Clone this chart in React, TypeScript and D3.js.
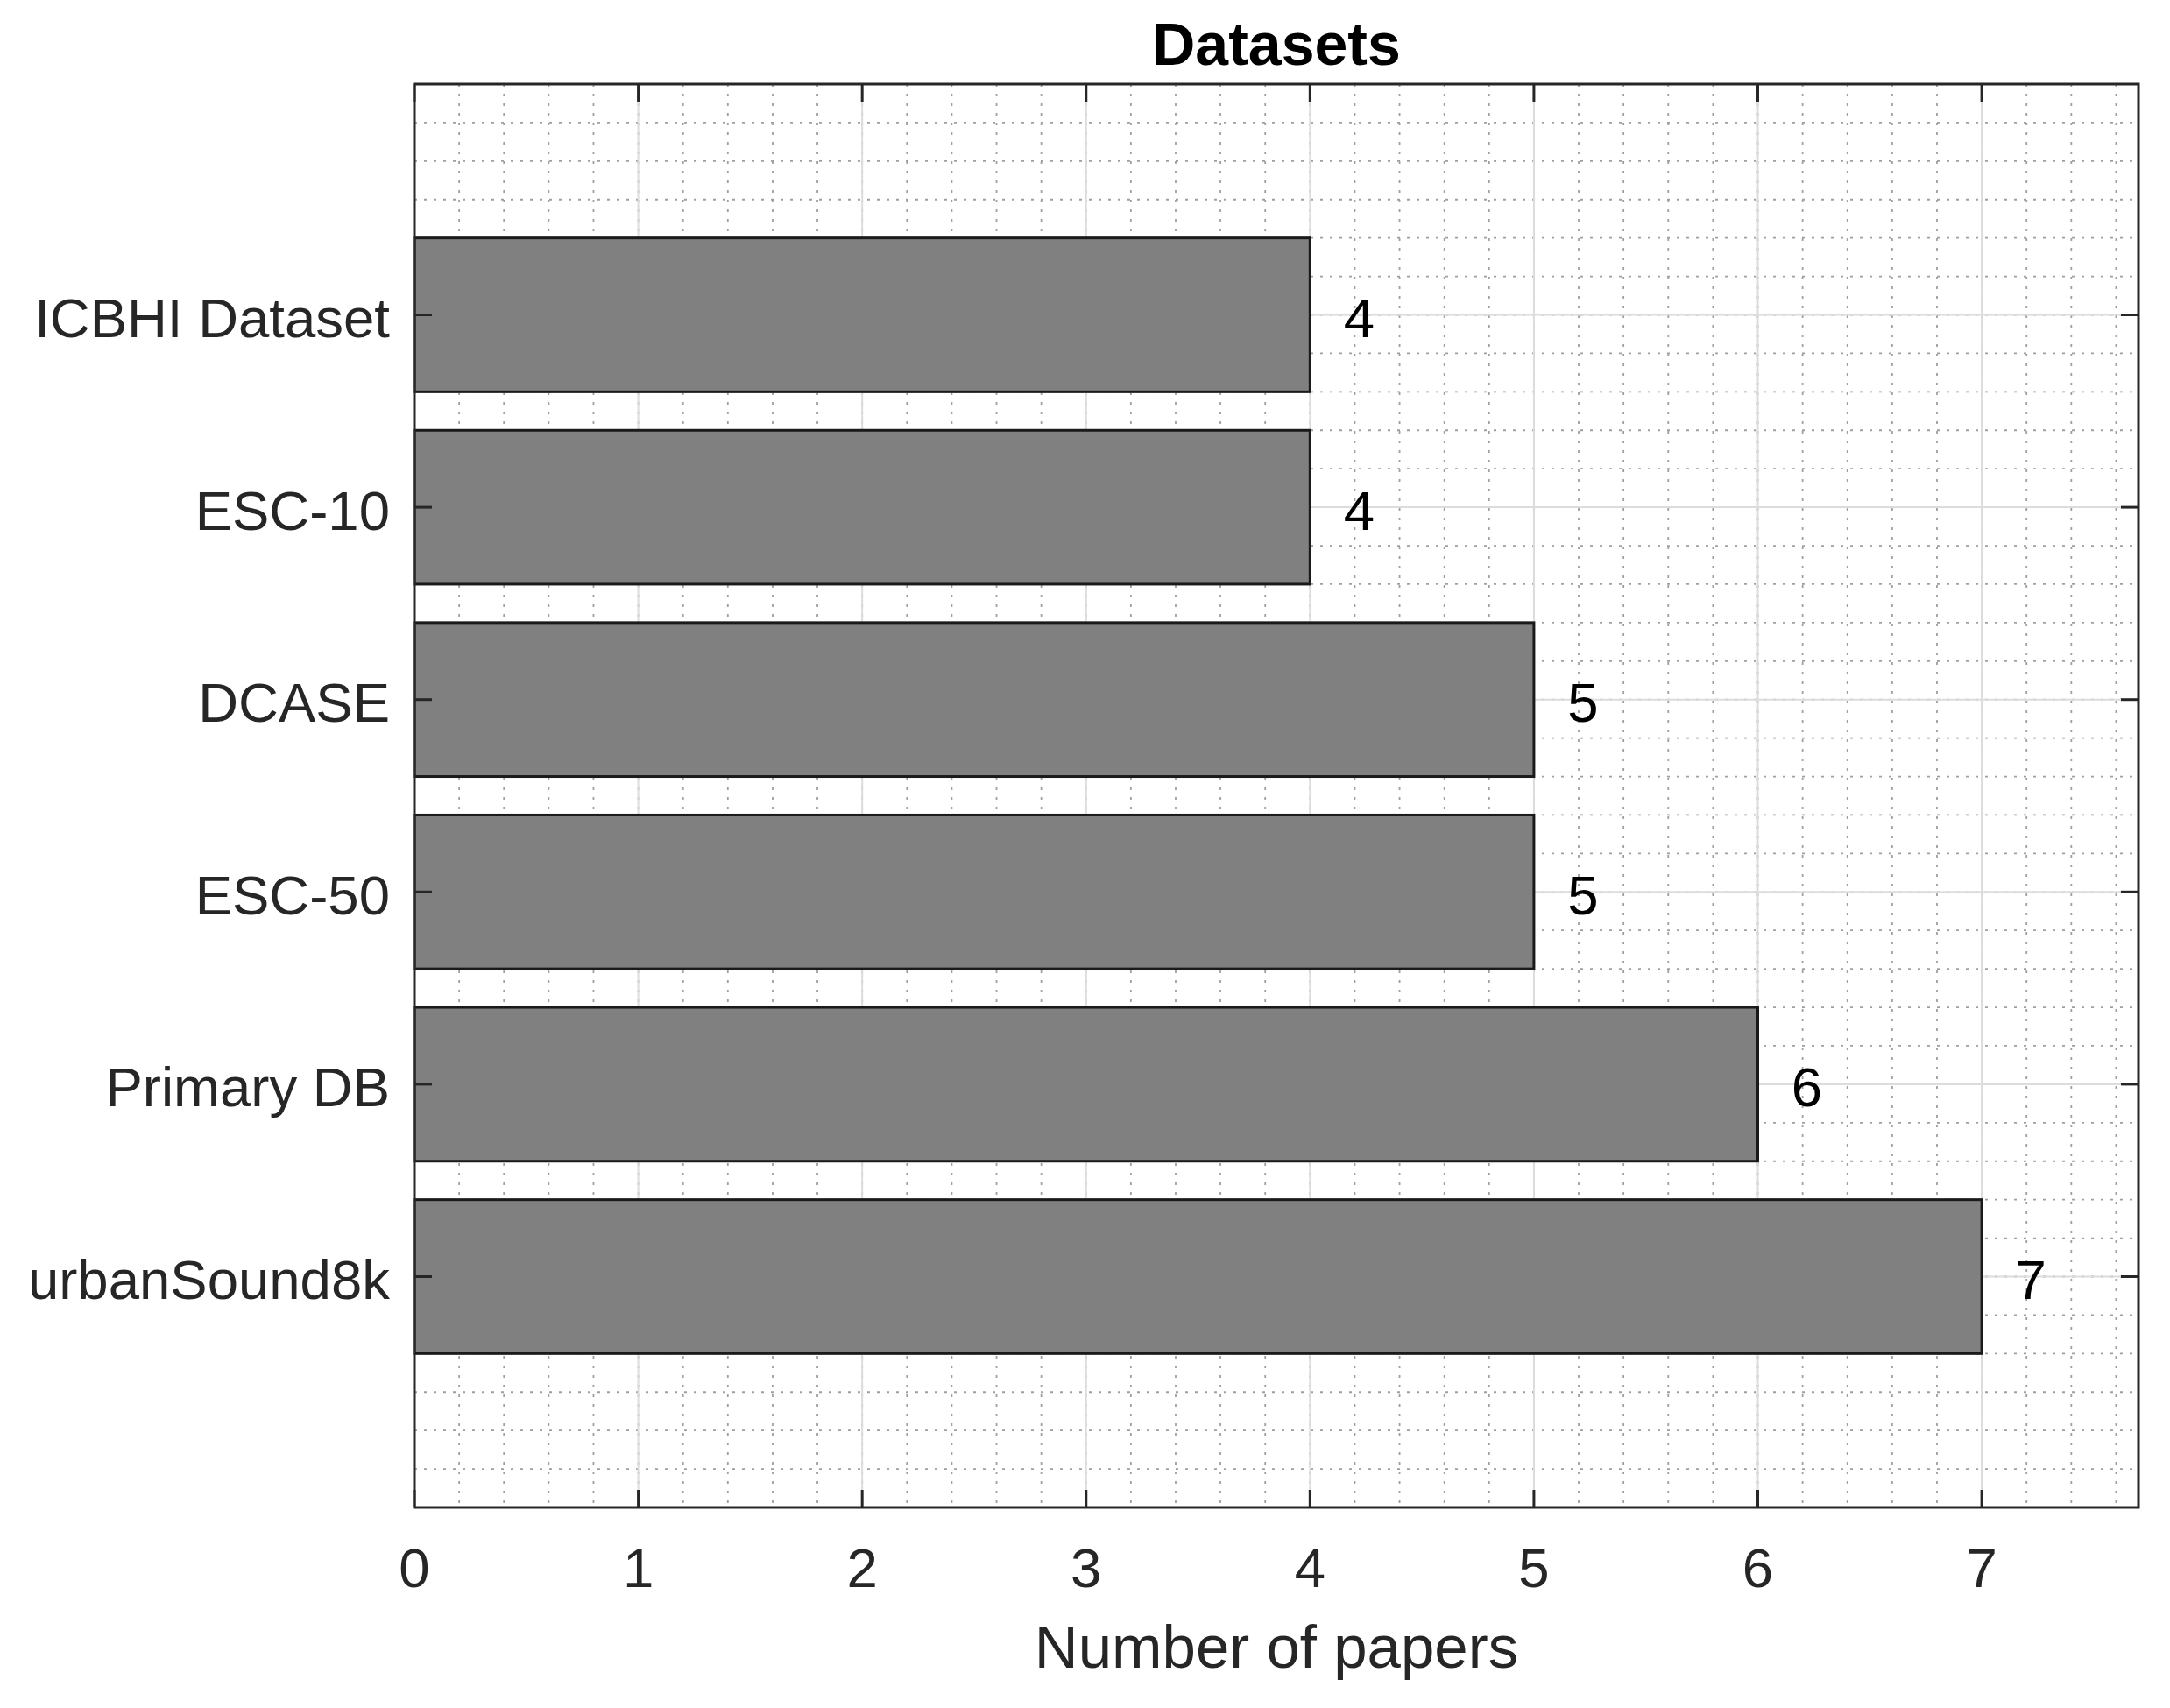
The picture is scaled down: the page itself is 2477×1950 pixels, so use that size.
import React from "react";
import * as d3 from "d3";

const categories = ["urbanSound8k", "Primary DB", "ESC-50", "DCASE", "ESC-10", "ICBHI Dataset"];
const values = [7, 6, 5, 5, 4, 4];
const xTicks = [0, 1, 2, 3, 4, 5, 6, 7];
const titleText = "Datasets";
const xLabelText = "Number of papers";

const W = 2477;
const H = 1950;
const M = { left: 473, right: 2441, top: 96, bottom: 1721 };
const FONT = "'Liberation Sans', Arial, Helvetica, sans-serif";
const AX = "#262626";
const TICK_FS = 63.5;

export default function App() {
  const x = d3.scaleLinear().domain([0, 7.7]).range([M.left, M.right]);
  const y = d3.scaleLinear().domain([-0.2, 7.2]).range([M.bottom, M.top]);
  const pos = categories.map((_, i) => i + 1);

  const xMinor = d3.range(0, 7.7 + 1e-9, 0.2).map((v) => +v.toFixed(2));
  const yMinor = d3.range(-0.2, 7.2 + 1e-9, 0.2).map((v) => +v.toFixed(2));
  const tickLen = 20;

  return (
    <svg
      width={W}
      height={H}
      style={{ position: "absolute", left: 0, top: 0, background: "#fff" }}
      fontFamily={FONT}
    >
      <rect x={0} y={0} width={W} height={H} fill="#fff" />
      {/* minor grid */}
      <g stroke="#8f8f8f" strokeWidth={1.8} strokeDasharray="3 8" opacity={0.85}>
        {xMinor.map((v, i) => (
          <line key={"xm" + i} x1={x(v)} x2={x(v)} y1={M.top} y2={M.bottom} />
        ))}
        {yMinor.map((v, i) => (
          <line key={"ym" + i} x1={M.left} x2={M.right} y1={y(v)} y2={y(v)} />
        ))}
      </g>
      {/* major grid */}
      <g stroke="#dcdcdc" strokeWidth={2}>
        {xTicks.map((v) => (
          <line key={"xg" + v} x1={x(v)} x2={x(v)} y1={M.top} y2={M.bottom} />
        ))}
        {pos.map((p) => (
          <line key={"yg" + p} x1={M.left} x2={M.right} y1={y(p)} y2={y(p)} />
        ))}
      </g>
      {/* bars */}
      <g>
        {values.map((v, i) => (
          <rect
            key={"b" + i}
            x={x(0)}
            y={y(pos[i] + 0.4)}
            width={x(v) - x(0)}
            height={y(pos[i] - 0.4) - y(pos[i] + 0.4)}
            fill="#808080"
            stroke="#1a1a1a"
            strokeWidth={3}
          />
        ))}
      </g>
      {/* value labels */}
      <g fontSize={TICK_FS} fill="#000">
        {values.map((v, i) => (
          <text key={"v" + i} x={x(v + 0.15)} y={y(pos[i])} dy="0.4em">
            {v}
          </text>
        ))}
      </g>
      {/* axes box */}
      <rect
        x={M.left}
        y={M.top}
        width={M.right - M.left}
        height={M.bottom - M.top}
        fill="none"
        stroke={AX}
        strokeWidth={3}
      />
      {/* ticks */}
      <g stroke={AX} strokeWidth={3}>
        {xTicks.map((v) => (
          <g key={"xt" + v}>
            <line x1={x(v)} x2={x(v)} y1={M.bottom} y2={M.bottom - tickLen} />
            <line x1={x(v)} x2={x(v)} y1={M.top} y2={M.top + tickLen} />
          </g>
        ))}
        {pos.map((p) => (
          <g key={"yt" + p}>
            <line x1={M.left} x2={M.left + tickLen} y1={y(p)} y2={y(p)} />
            <line x1={M.right} x2={M.right - tickLen} y1={y(p)} y2={y(p)} />
          </g>
        ))}
      </g>
      {/* tick labels */}
      <g fontSize={TICK_FS} fill={AX} textAnchor="middle">
        {xTicks.map((v) => (
          <text key={"xl" + v} x={x(v)} y={1812}>
            {v}
          </text>
        ))}
      </g>
      <g fontSize={TICK_FS} fill={AX} textAnchor="end">
        {categories.map((c, i) => (
          <text key={"yl" + i} x={M.left - 28} y={y(pos[i])} dy="0.4em">
            {c}
          </text>
        ))}
      </g>
      <text x={(M.left + M.right) / 2} y={1904} fontSize={69} fill={AX} textAnchor="middle">
        {xLabelText}
      </text>
      <text
        x={(M.left + M.right) / 2}
        y={74}
        fontSize={68}
        fontWeight="bold"
        fill="#000"
        textAnchor="middle"
      >
        {titleText}
      </text>
    </svg>
  );
}
